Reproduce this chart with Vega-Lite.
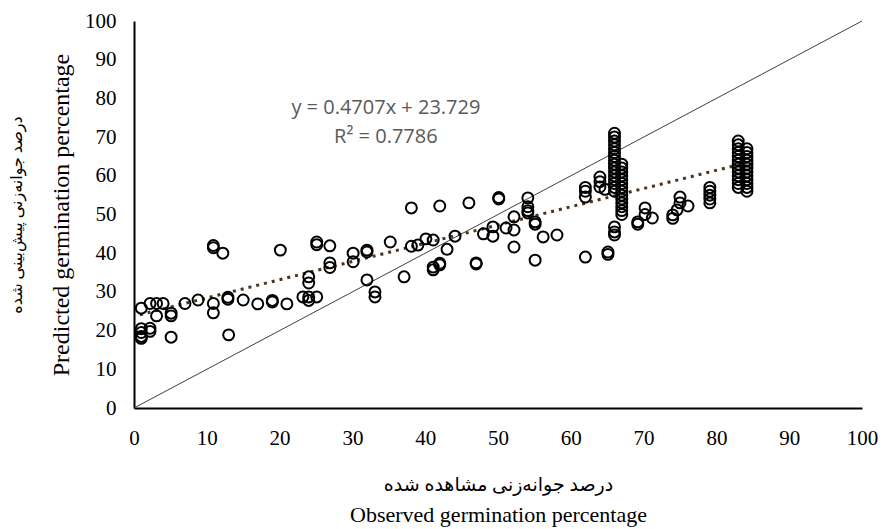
{
  "$schema": "https://vega.github.io/schema/vega-lite/v6.json",
  "width": 728,
  "height": 387,
  "autosize": "none",
  "padding": {"left": 134, "top": 21, "right": 21, "bottom": 121},
  "background": "white",
  "config": {"view": {"stroke": null}},
  "resolve": {"axis": {"x": "independent", "y": "independent"}},
  "layer": [
    {
      "data": {"values": [{"o": 0, "p": 0}, {"o": 100, "p": 100}]},
      "mark": {"type": "line", "color": "#404040", "strokeWidth": 1},
      "encoding": {
        "x": {"field": "o", "type": "quantitative", "scale": {"domain": [0, 100], "nice": false, "zero": false},
          "axis": {"orient": "bottom", "title": "Observed germination percentage", "labels": false, "ticks": false, "domain": false, "grid": false,
            "titleFont": "Liberation Serif", "titleFontSize": 22, "titleFontWeight": "normal", "titleColor": "black", "titlePadding": 96}},
        "y": {"field": "p", "type": "quantitative", "scale": {"domain": [0, 100], "nice": false, "zero": false},
          "axis": {"orient": "left", "title": "درصد جوانه‌زنی پیش‌بینی شده", "labels": false, "ticks": false, "domain": false, "grid": false,
            "titleFont": "Liberation Serif, DejaVu Sans", "titleFontSize": 16, "titleFontWeight": "normal", "titleColor": "black", "titlePadding": 110}}
      }
    },
    {
      "data": {"values": [{"o": 0.8, "p": 24.1}, {"o": 84.2, "p": 63.4}]},
      "mark": {"type": "line", "color": "#4d3319", "strokeWidth": 3, "strokeDash": [3, 5], "strokeCap": "butt"},
      "encoding": {
        "x": {"field": "o", "type": "quantitative", "axis": null},
        "y": {"field": "p", "type": "quantitative", "axis": null}
      }
    },
    {
      "data": {"values": [
        {"o":1,"p":25.8},{"o":1,"p":20.5},{"o":1,"p":19.5},{"o":1,"p":18.5},{"o":1,"p":18},
        {"o":2.2,"p":27},{"o":2.2,"p":20.6},{"o":2.2,"p":19.8},
        {"o":3.1,"p":27},{"o":3.1,"p":23.8},{"o":4,"p":27},
        {"o":5.1,"p":24.5},{"o":5.1,"p":23.8},{"o":5.1,"p":18.3},
        {"o":7,"p":27},{"o":8.8,"p":27.9},
        {"o":10.9,"p":42},{"o":10.9,"p":41.4},{"o":10.9,"p":27},{"o":10.9,"p":24.6},
        {"o":12.2,"p":40},{"o":12.9,"p":28.1},{"o":12.9,"p":28.6},{"o":13,"p":18.9},
        {"o":15,"p":27.9},{"o":17,"p":26.9},{"o":19,"p":27.4},{"o":19,"p":27.8},
        {"o":20.1,"p":40.8},{"o":21,"p":26.9},{"o":23.2,"p":28.7},
        {"o":24,"p":33.9},{"o":24,"p":32.3},{"o":24,"p":28.7},{"o":24,"p":27.8},
        {"o":25.1,"p":42.9},{"o":25.1,"p":42.2},{"o":25.1,"p":28.7},
        {"o":26.9,"p":41.9},{"o":26.9,"p":37.5},{"o":26.9,"p":36.3},
        {"o":30.1,"p":40},{"o":30.1,"p":37.8},
        {"o":32,"p":40.3},{"o":32,"p":40.8},{"o":32,"p":33.1},
        {"o":33.1,"p":30},{"o":33.1,"p":28.7},
        {"o":35.2,"p":42.9},{"o":37.1,"p":33.9},
        {"o":38.1,"p":51.7},{"o":38.1,"p":41.8},{"o":39,"p":42.1},{"o":40.1,"p":43.7},
        {"o":41.1,"p":43.4},{"o":41.1,"p":36.4},{"o":41.1,"p":35.7},
        {"o":42,"p":52.2},{"o":42,"p":37.4},{"o":42,"p":37},
        {"o":43,"p":41},{"o":44.1,"p":44.4},{"o":46,"p":53},
        {"o":47,"p":37.5},{"o":47,"p":37.2},
        {"o":48,"p":45},{"o":49.3,"p":44.4},{"o":49.3,"p":46.8},
        {"o":50.1,"p":54},{"o":50.1,"p":54.4},{"o":51.1,"p":46.5},
        {"o":52.2,"p":49.4},{"o":52.2,"p":46},{"o":52.2,"p":41.6},
        {"o":54.1,"p":54.3},{"o":54.1,"p":52},{"o":54.1,"p":51},{"o":54.1,"p":50.4},
        {"o":55.1,"p":48.1},{"o":55.1,"p":47.5},{"o":55.1,"p":38.2},
        {"o":56.2,"p":44.2},{"o":58.1,"p":44.7},
        {"o":62,"p":57},{"o":62,"p":56},{"o":62,"p":54.5},{"o":62,"p":39},
        {"o":64,"p":59.7},{"o":64,"p":58.5},{"o":64,"p":57.1},{"o":64.7,"p":56.5},
        {"o":65.1,"p":40.3},{"o":65.1,"p":39.7},
        {"o":66,"p":71},{"o":66,"p":70},{"o":66,"p":69},{"o":66,"p":68},{"o":66,"p":67},{"o":66,"p":66},{"o":66,"p":65},{"o":66,"p":64},
        {"o":66,"p":63},{"o":66,"p":62},{"o":66,"p":61},{"o":66,"p":60},{"o":66,"p":59},{"o":66,"p":58},{"o":66,"p":57},{"o":66,"p":56},
        {"o":66,"p":46.8},{"o":66,"p":45.5},{"o":66,"p":44.7},
        {"o":67,"p":63},{"o":67,"p":62},{"o":67,"p":61},{"o":67,"p":60},{"o":67,"p":59},{"o":67,"p":58},{"o":67,"p":57},
        {"o":67,"p":56},{"o":67,"p":55},{"o":67,"p":54},{"o":67,"p":53},{"o":67,"p":52},{"o":67,"p":51},{"o":67,"p":50},
        {"o":69.2,"p":48.1},{"o":69.2,"p":47.5},{"o":70.2,"p":51.7},{"o":70.2,"p":50},
        {"o":71.2,"p":49.1},{"o":74,"p":49.9},{"o":74,"p":49},{"o":74.6,"p":51.2},
        {"o":75,"p":54.5},{"o":75,"p":53},{"o":76.1,"p":52.2},
        {"o":79.1,"p":57},{"o":79.1,"p":56},{"o":79.1,"p":55},{"o":79.1,"p":54},{"o":79.1,"p":53},
        {"o":83,"p":69},{"o":83,"p":68},{"o":83,"p":67},{"o":83,"p":66},{"o":83,"p":65},{"o":83,"p":64},{"o":83,"p":63},
        {"o":83,"p":62},{"o":83,"p":61},{"o":83,"p":60},{"o":83,"p":59},{"o":83,"p":58},{"o":83,"p":57},
        {"o":84.2,"p":67},{"o":84.2,"p":66},{"o":84.2,"p":65},{"o":84.2,"p":64},{"o":84.2,"p":63},{"o":84.2,"p":62},
        {"o":84.2,"p":61},{"o":84.2,"p":60},{"o":84.2,"p":59},{"o":84.2,"p":58},{"o":84.2,"p":57},{"o":84.2,"p":56}
      ]},
      "mark": {"type": "point", "shape": "circle", "filled": false, "stroke": "black", "strokeWidth": 2, "size": 120, "opacity": 1},
      "encoding": {
        "x": {"field": "o", "type": "quantitative",
          "axis": {"orient": "bottom", "title": "درصد جوانه‌زنی مشاهده شده", "values": [0,10,20,30,40,50,60,70,80,90,100],
            "grid": false, "ticks": false, "tickSize": 0, "labelPadding": 19, "labelFlush": false, "domainColor": "black", "domainWidth": 2,
            "labelFont": "Liberation Serif", "labelFontSize": 21, "labelColor": "black",
            "titleFont": "Liberation Serif, DejaVu Sans", "titleFontSize": 19, "titleFontWeight": "normal", "titleColor": "black", "titlePadding": 27}},
        "y": {"field": "p", "type": "quantitative",
          "axis": {"orient": "left", "title": "Predicted germination percentage", "values": [0,10,20,30,40,50,60,70,80,90,100],
            "grid": false, "ticks": false, "tickSize": 0, "labelPadding": 18, "domainColor": "black", "domainWidth": 2,
            "labelFont": "Liberation Serif", "labelFontSize": 21, "labelColor": "black",
            "titleFont": "Liberation Serif", "titleFontSize": 24, "titleFontWeight": "normal", "titleColor": "black", "titlePadding": 11}}
      }
    },
    {
      "data": {"values": [
        {"o": 34.6, "p": 77.6, "label": "y = 0.4707x + 23.729"},
        {"o": 34.6, "p": 70.1, "label": "R² = 0.7786"}
      ]},
      "mark": {"type": "text", "font": "Open Sans", "fontSize": 20, "color": "#595959", "align": "center", "baseline": "middle"},
      "encoding": {
        "x": {"field": "o", "type": "quantitative", "axis": null},
        "y": {"field": "p", "type": "quantitative", "axis": null},
        "text": {"field": "label"}
      }
    }
  ]
}
